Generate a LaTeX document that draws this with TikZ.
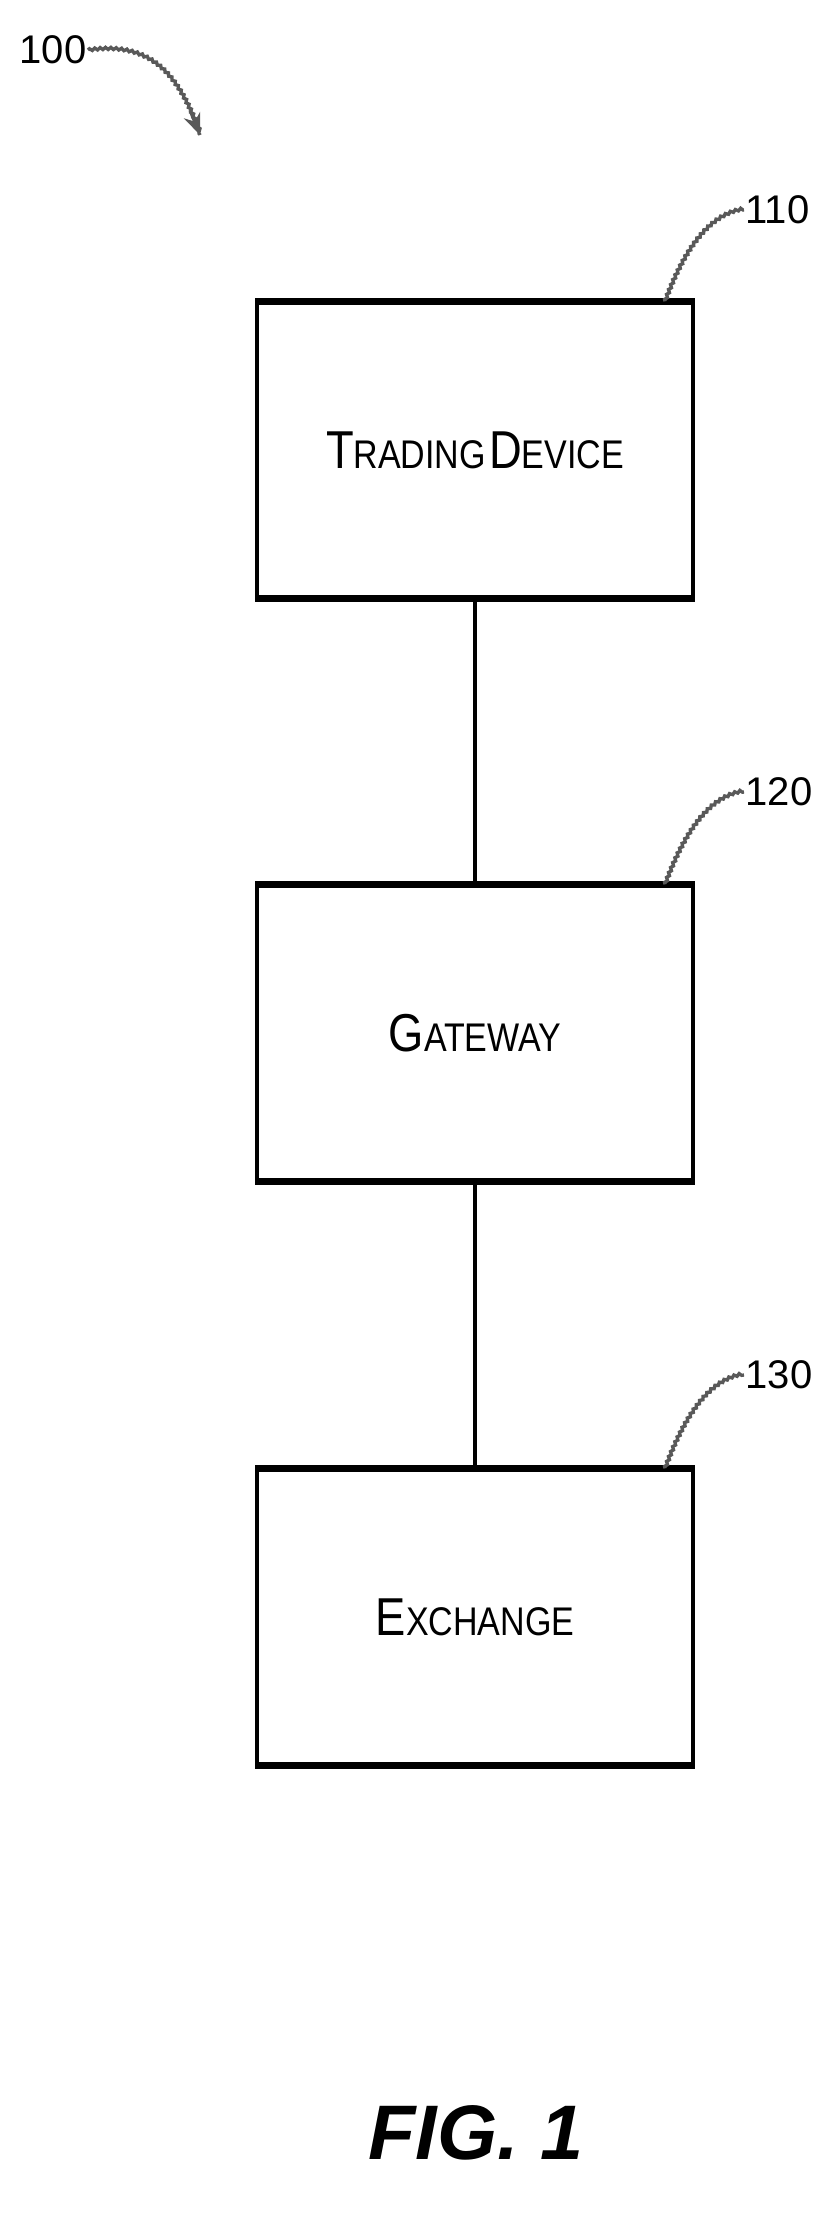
\documentclass[tikz,border=0pt]{standalone}
\usepackage{fontspec}
\setmainfont{Liberation Sans}
\usetikzlibrary{positioning, arrows.meta, decorations.pathmorphing}
\newcommand{\smc}[2]{{\fontsize{40}{44}\selectfont #1}{\fontsize{30}{34}\selectfont #2}}
\tikzstyle{block} = [rectangle, minimum width=327pt, minimum height=220pt, draw=black, line width=3pt, text centered]
\tikzstyle{link} = [line width=2.5pt]
\tikzstyle{lead} = [line width=2.5pt, gray!70!black, decorate, decoration={snake, amplitude=0.8pt, segment length=4pt}]
\tikzstyle{refnum} = [font=\fontsize{30}{34}\selectfont, anchor=west, inner sep=1pt]
\begin{document}
\begin{tikzpicture}[x=0.75pt, y=-0.75pt]
        \useasboundingbox (0,0) rectangle (832,2227);
        % Nodes
        \node (trading) [block] at (475,450) {\scalebox{0.85}[1]{\smc{T}{RADING}\ \smc{D}{EVICE}}};
        \node (gateway) [block] at (475,1033) {\scalebox{0.85}[1]{\smc{G}{ATEWAY}}};
        \node (exchange) [block] at (475,1617) {\scalebox{0.85}[1]{\smc{E}{XCHANGE}}};
        \node (fig) at (476,2133) {\fontsize{58}{64}\selectfont\bfseries\itshape FIG. 1};

        % Reference labels
        \node (r100) [refnum] at (18,50) {100};
        \node (r110) [refnum] at (744,210) {110};
        \node (r120) [refnum] at (744,792) {120};
        \node (r130) [refnum] at (744,1375) {130};
        \coordinate (tip) at (200,135);

        % Connectors
        \draw [link] (trading) -- (gateway);
        \draw [link] (gateway) -- (exchange);

        % Thicker top and bottom edges
        \foreach \b in {trading, gateway, exchange} {
            \draw [line width=5pt] (\b.north west) -- (\b.north east);
            \draw [line width=5pt] (\b.south west) -- (\b.south east);
        }

        % Leaders
        \draw [lead] (trading.north east) ++(-30,0) .. controls +(15,-40) and +(-40,5) .. (r110.west);
        \draw [lead] (gateway.north east) ++(-30,0) .. controls +(15,-40) and +(-40,5) .. (r120.west);
        \draw [lead] (exchange.north east) ++(-30,0) .. controls +(15,-40) and +(-40,5) .. (r130.west);
        \draw [lead] (r100.east) .. controls +(70,-10) and +(-20,-50) .. (tip);
        \draw [line width=2.5pt, gray!70!black, -{Stealth[length=16pt,width=13pt]}] (190,110) -- (tip);
    \end{tikzpicture}
\end{document}
